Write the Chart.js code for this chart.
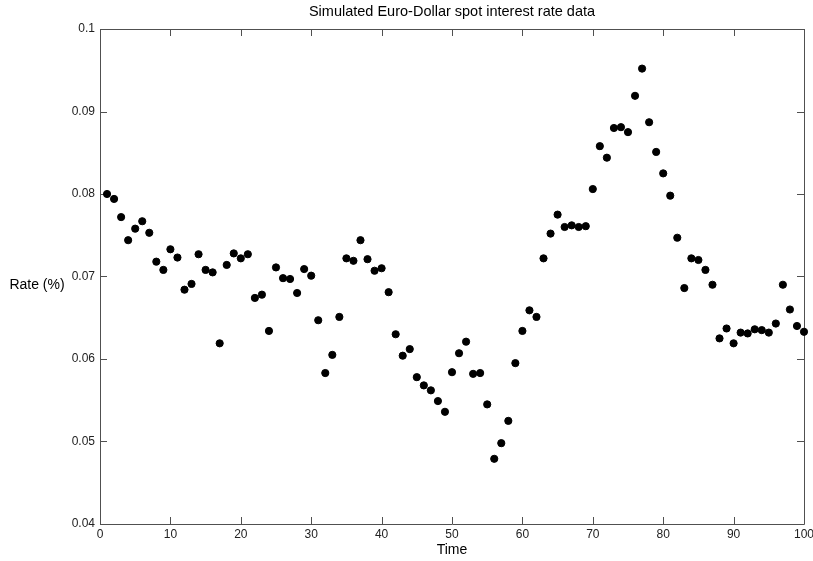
<!DOCTYPE html>
<html>
<head>
<meta charset="utf-8">
<script src="https://cdn.jsdelivr.net/npm/chart.js@4.4.1/dist/chart.umd.min.js"></script>
<style>
  html, body { margin: 0; padding: 0; background: #fff; }
  #wrap { width: 813px; height: 561px; position: relative; }
</style>
</head>
<body>
<div id="wrap"><canvas id="rateChart"></canvas></div>
<script>
// Simulated Euro-Dollar spot rates, time steps 1..100
const rates = [
  0.0800, 0.0794, 0.0772, 0.0744, 0.0758, 0.0767, 0.0753, 0.0718, 0.0708, 0.0733,
  0.0723, 0.0684, 0.0691, 0.0727, 0.0708, 0.0705, 0.0619, 0.0714, 0.0728, 0.0722,
  0.0727, 0.0674, 0.0678, 0.0634, 0.0711, 0.0698, 0.0697, 0.0680, 0.0709, 0.0701,
  0.0647, 0.0583, 0.0605, 0.0651, 0.0722, 0.0719, 0.0744, 0.0721, 0.0707, 0.0710,
  0.0681, 0.0630, 0.0604, 0.0612, 0.0578, 0.0568, 0.0562, 0.0549, 0.0536, 0.0584,
  0.0607, 0.0621, 0.0582, 0.0583, 0.0545, 0.0479, 0.0498, 0.0525, 0.0595, 0.0634,
  0.0659, 0.0651, 0.0722, 0.0752, 0.0775, 0.0760, 0.0762, 0.0760, 0.0761, 0.0806,
  0.0858, 0.0844, 0.0880, 0.0881, 0.0875, 0.0919, 0.0952, 0.0887, 0.0851, 0.0825,
  0.0798, 0.0747, 0.0686, 0.0722, 0.0720, 0.0708, 0.0690, 0.0625, 0.0637, 0.0619,
  0.0632, 0.0631, 0.0636, 0.0635, 0.0632, 0.0643, 0.0690, 0.0660, 0.0640, 0.0633
];

const xTicks = [0, 10, 20, 30, 40, 50, 60, 70, 80, 90, 100];
const yTicks = [0.04, 0.05, 0.06, 0.07, 0.08, 0.09, 0.1];

const tickFont = { family: "'Liberation Sans Narrow', 'Liberation Sans', Arial, sans-serif", size: 12 };

// Box around the plot with inward tick marks on all four sides (MATLAB style)
const framePlugin = {
    id: 'frame',
    beforeDatasetsDraw(chart) {
        const { ctx, chartArea: a, scales } = chart;
        const len = 7;
        ctx.save();
        ctx.strokeStyle = '#505050';
        ctx.lineWidth = 1;
        ctx.beginPath();
        ctx.rect(Math.round(a.left) + 0.5, Math.round(a.top) + 0.5,
                 Math.round(a.right - a.left), Math.round(a.bottom - a.top));
        scales.x.ticks.forEach(t => {
            const px = Math.round(scales.x.getPixelForValue(t.value)) + 0.5;
            ctx.moveTo(px, a.bottom); ctx.lineTo(px, a.bottom - len);
            ctx.moveTo(px, a.top); ctx.lineTo(px, a.top + len);
        });
        scales.y.ticks.forEach(t => {
            const py = Math.round(scales.y.getPixelForValue(t.value)) + 0.5;
            ctx.moveTo(a.left, py); ctx.lineTo(a.left + len, py);
            ctx.moveTo(a.right, py); ctx.lineTo(a.right - len, py);
        });
        ctx.stroke();

        // horizontal y-axis label
        ctx.fillStyle = '#000';
        ctx.font = "14px 'Liberation Sans', Arial, sans-serif";
        ctx.textAlign = 'center';
        ctx.textBaseline = 'middle';
        ctx.fillText('Rate (%)', 37, (a.top + a.bottom) / 2 + 9);
        ctx.restore();
    }
};

const ctx = document.getElementById('rateChart').getContext('2d');
new Chart(ctx, {
    type: 'scatter',
    data: {
        datasets: [{
            data: rates.map((r, i) => ({ x: i + 1, y: r })),
            backgroundColor: '#000',
            borderColor: '#000',
            pointRadius: 3.6,
            pointHoverRadius: 3.6,
            clip: false
        }]
    },
    options: {
        responsive: true,
        maintainAspectRatio: false,
        animation: false,
        layout: { padding: { left: 0, right: 9, top: 0, bottom: 0 } },
        plugins: {
            legend: { display: false },
            tooltip: { enabled: false },
            title: {
                display: true,
                fullSize: false,
                text: 'Simulated Euro-Dollar spot interest rate data',
                color: '#000',
                font: { family: "'Liberation Sans', Arial, sans-serif", size: 14.5, weight: 'normal' },
                padding: { top: 3, bottom: 8.6 }
            }
        },
        scales: {
            x: {
                type: 'linear',
                min: 0,
                max: 100,
                afterBuildTicks: s => { s.ticks = xTicks.map(v => ({ value: v })); },
                afterFit: s => { s.height = 37; s.paddingLeft = 0; s.paddingRight = 0; },
                grid: { display: false, drawTicks: false },
                border: { display: false },
                ticks: { color: '#222', font: tickFont, padding: 3, maxRotation: 0 },
                title: {
                    display: true,
                    text: 'Time',
                    color: '#000',
                    font: { family: "'Liberation Sans', Arial, sans-serif", size: 14 },
                    padding: { top: 0, bottom: 2 }
                }
            },
            y: {
                type: 'linear',
                min: 0.04,
                max: 0.1,
                afterBuildTicks: s => { s.ticks = yTicks.map(v => ({ value: v })); },
                afterFit: s => { s.width = 100; },
                grid: { display: false, drawTicks: false },
                border: { display: false },
                ticks: {
                    color: '#222',
                    font: tickFont,
                    padding: 5,
                    callback: v => String(Number(v.toFixed(2)))
                }
            }
        }
    },
    plugins: [framePlugin]
});
</script>
</body>
</html>
